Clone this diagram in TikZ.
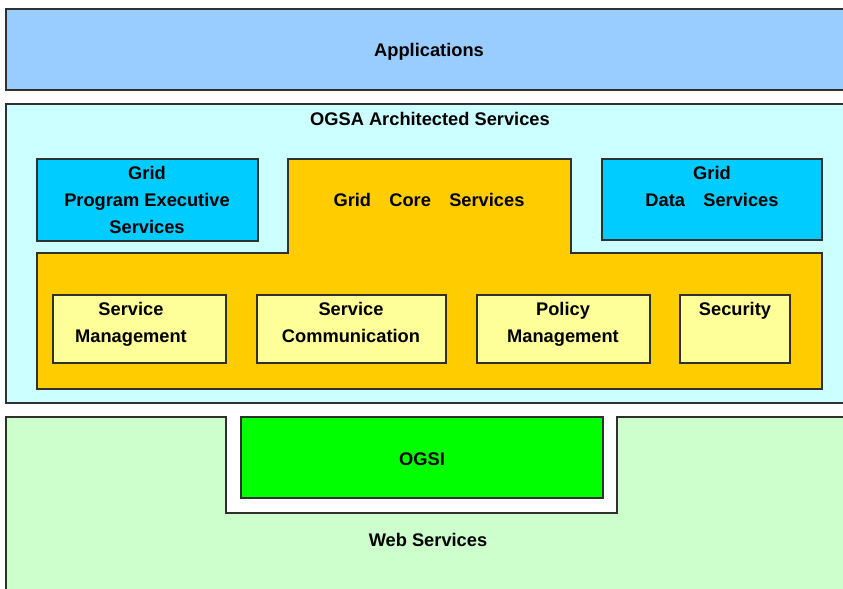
\documentclass[tikz,border=0pt]{standalone}
\usepackage{fontspec}
\setmainfont{Liberation Sans}
\usetikzlibrary{fit}
\definecolor{appblue}{HTML}{99CCFF}
\definecolor{ogsabg}{HTML}{CCFFFF}
\definecolor{gridblue}{HTML}{00CCFF}
\definecolor{coreorange}{HTML}{FFCC00}
\definecolor{paleyellow}{HTML}{FFFF99}
\definecolor{ogsigreen}{HTML}{00FF00}
\definecolor{wsgreen}{HTML}{CCFFCC}
\definecolor{edge}{HTML}{303030}
\begin{document}
\begin{tikzpicture}[x=0.75pt,y=-0.75pt,
  box/.style={draw=edge, line width=0.8pt, inner sep=0pt},
  label/.style={font=\fontsize{13.7}{20.25}\selectfont\bfseries, align=center, inner sep=0pt, text=black, yshift=-1.1pt}]
\useasboundingbox (0,0) rectangle (843,589);
\fill[white] (0,0) rectangle (843,589);
\begin{scope}
\clip (0,0) rectangle (843,589);
% top layer
\node[box, fill=appblue, fit={(6,9) (850,90)}] (apps) {};
% architected services panel
\node[box, fill=ogsabg, fit={(6,104) (850,403)}] (ogsa) {};
\node[box, fill=gridblue, fit={(37,159) (258,241)}] (pes) {};
\node[box, fill=gridblue, fit={(602,159) (822,240)}] (gds) {};
% T-shaped core services block
\draw[draw=edge, line width=0.8pt, fill=coreorange]
  (288,159) -- (571,159) -- (571,253) -- (822,253) -- (822,389)
  -- (37,389) -- (37,253) -- (288,253) -- cycle;
\node[box, fill=paleyellow, fit={(53,295) (226,363)}] (sm) {};
\node[box, fill=paleyellow, fit={(257,295) (446,363)}] (sc) {};
\node[box, fill=paleyellow, fit={(477,295) (650,363)}] (pm) {};
\node[box, fill=paleyellow, fit={(680,295) (790,363)}] (sec) {};
% web services layer with notch
\draw[draw=edge, line width=0.8pt, fill=wsgreen]
  (6,417) -- (226,417) -- (226,513) -- (617,513) -- (617,417)
  -- (850,417) -- (850,600) -- (6,600) -- cycle;
\node[box, fill=ogsigreen, fit={(241,417) (603,498)}] (ogsi) {};
\end{scope}
% labels (each line strutted so that the boxes centre evenly)
\node[label] (tapps) at (429,50) {\strut Applications};
\node[label] (togsa) at (430,119) {\strut OGSA Architected Services};
\node[label] (tpes) at (147,200) {\strut Grid\\\strut Program Executive\\\strut Services};
\node[label] (tcore) at (429,200) {\strut Grid\hspace{1em}Core\hspace{1em}Services};
\node[label] (tgds) at (712,186.5) {\strut Grid\\\strut Data\hspace{1em}Services};
\node[label] (tsm) at (131,322.5) {\strut Service\\\strut Management};
\node[label] (tsc) at (351,322.5) {\strut Service\\\strut Communication};
\node[label] (tpm) at (563,322.5) {\strut Policy\\\strut Management};
\node[label] (tsec) at (735,309) {\strut Security};
\node[label] (togsi) at (422,459) {\strut OGSI};
\node[label] (tws) at (428,540) {\strut Web Services};
\end{tikzpicture}
\end{document}
